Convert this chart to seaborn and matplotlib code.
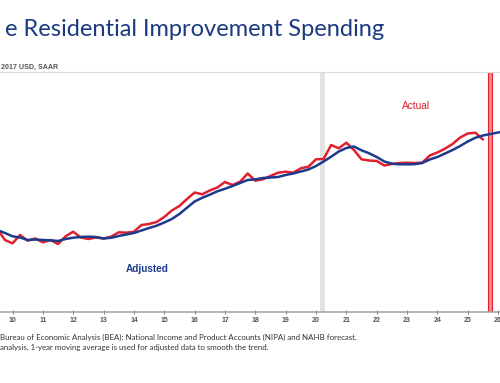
import numpy as np
import pandas as pd
import matplotlib
matplotlib.use("Agg")
import matplotlib.pyplot as plt
import seaborn as sns

# ---- data (relative level; quarterly) ----
start_year = 2009.5          # first quarter shown (2009 Q3)
actual = [83.0, 72.0, 68.7, 77.0, 71.3, 73.5, 69.7, 72.0, 68.0, 75.7, 80.3, 74.5, 73.0,
          74.5, 73.5, 75.3, 79.7, 79.3, 80.3, 87.0, 88.0, 90.0, 95.0, 101.5, 106.0, 113.0,
          119.5, 117.7, 121.5, 124.5, 130.0, 127.0, 130.3, 138.5, 131.3, 132.7, 136.0, 139.3,
          140.3, 139.3, 143.7, 145.3, 152.7, 153.0, 167.0, 163.7, 169.3, 162.0, 152.7, 151.5,
          151.0, 146.5, 148.0, 149.0, 149.3, 149.0, 149.3, 156.5, 159.5, 163.3, 168.0, 174.5,
          178.5, 179.3, 172.5]
adjusted = [82.0, 79.0, 75.7, 74.5, 72.0, 72.5, 72.0, 71.7, 71.0, 73.0, 74.3, 75.0, 75.3,
            75.0, 73.5, 74.2, 76.0, 77.5, 79.0, 81.5, 84.0, 86.3, 89.5, 93.0, 98.0, 104.3,
            110.5, 114.2, 117.3, 120.7, 123.2, 126.0, 129.0, 132.0, 132.6, 134.0, 134.5, 135.0,
            137.0, 138.5, 140.5, 142.5, 146.0, 150.5, 155.3, 160.5, 164.0, 165.5, 161.7, 158.7,
            155.0, 150.5, 148.3, 147.7, 147.7, 147.8, 149.0, 152.5, 155.0, 158.5, 162.0, 166.0,
            170.5, 174.2, 176.5, 178.0, 179.5, 181.0]
tick_years = list(range(2010, 2027))
tick_labels = [str(y % 100) for y in tick_years]
recession = (2020.13, 2020.30)
forecast_line = (2025.68, 2025.80)

df_a = pd.DataFrame({"year": start_year + np.arange(len(actual)) / 4, "value": actual, "series": "Actual"})
df_j = pd.DataFrame({"year": start_year + np.arange(len(adjusted)) / 4, "value": adjusted, "series": "Adjusted"})

sns.set_theme(style="white")
plt.rcParams["font.family"] = ["Liberation Sans", "DejaVu Sans"]

RED = "#e0202c"
NAVY = "#1c3b8c"

fig = plt.figure(figsize=(5, 3.83), dpi=100)
ax = fig.add_axes([0, 0.1854, 1, 0.6266])

ax.axvspan(*recession, color="#e3e3e3", lw=0, zorder=0)
ax.axvspan(*forecast_line, facecolor="#f4868b", edgecolor=RED, lw=0.8, zorder=1)

sns.lineplot(data=df_a, x="year", y="value", color=RED, lw=1.8, ax=ax, zorder=3)
sns.lineplot(data=df_j, x="year", y="value", color=NAVY, lw=1.8, ax=ax, zorder=4)

ax.set_xlim(2009.588, 2026.063)
ax.set_ylim(0, 240)
ax.set_xticks(tick_years)
ax.set_xticklabels(tick_labels)
ax.set_yticks([])
ax.set_xlabel("")
ax.set_ylabel("")
for s in ["left", "right"]:
    ax.spines[s].set_visible(False)
ax.spines["top"].set_color("#dcdcdc")
ax.spines["top"].set_linewidth(0.9)
ax.spines["bottom"].set_color("#a0a0a0")
ax.spines["bottom"].set_linewidth(1.1)
ax.tick_params(axis="x", direction="inout", length=2.5, width=0.7, color="#777777",
               pad=2.5, labelsize=5.0, labelcolor="#555555", bottom=True)
for lbl in ax.get_xticklabels():
    lbl.set_fontweight("bold")

ax.text(2023.31, 206, "Actual", color=RED, fontsize=7.3, ha="center", va="center")
ax.text(2014.44, 43, "Adjusted", color=NAVY, fontsize=7.2, fontweight="bold", ha="center", va="center")

# titles and notes
fig.text(384 / 500, 1 - 30 / 383, "e Residential Improvement Spending", color="#1b3a80",
         fontsize=17.0, family=["Lato", "DejaVu Sans"], ha="right", va="center")
fig.text(1 / 500, 1 - 67 / 383, "2017 USD, SAAR", color="#555555", fontsize=5.1,
         fontweight="bold", ha="left", va="center")
fig.text(0, 1 - 337 / 383,
         "Bureau of Economic Analysis (BEA): National Income and Product Accounts (NIPA) and NAHB forecast.",
         color="#333333", fontsize=5.7, family=["Lato", "DejaVu Sans"], ha="left", va="center")
fig.text(0, 1 - 347 / 383,
         "analysis, 1-year moving average is used for adjusted data to smooth the trend.",
         color="#333333", fontsize=5.7, family=["Lato", "DejaVu Sans"], ha="left", va="center")

fig.savefig("out.png", dpi=100)
